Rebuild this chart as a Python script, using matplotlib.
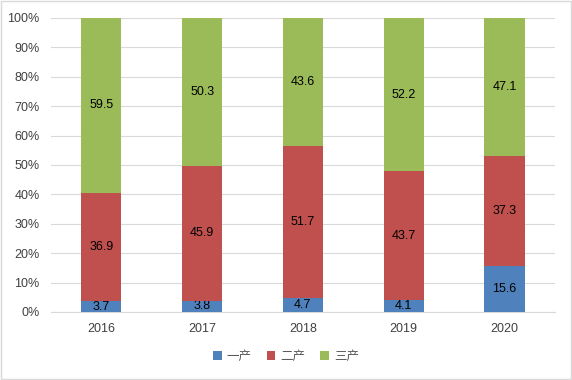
import matplotlib as mpl
import matplotlib.pyplot as plt
import numpy as np

mpl.rcParams['font.family'] = ['Liberation Sans', 'Noto Sans CJK SC', 'DejaVu Sans']

years = ['2016', '2017', '2018', '2019', '2020']
primary = [3.7, 3.8, 4.7, 4.1, 15.6]
secondary = [36.9, 45.9, 51.7, 43.7, 37.3]
tertiary = [59.5, 50.3, 43.6, 52.2, 47.1]
names = ['一产', '二产', '三产']
colors = ['#4F81BD', '#C0504D', '#9BBB59']

series = np.array([primary, secondary, tertiary])
total = series.sum(axis=0)
share = series / total * 100

fig = plt.figure(figsize=(5.72, 3.8), dpi=100)
ax = fig.add_axes([0.089, 0.179, 0.881, 0.774])
x = np.arange(len(years))
bottom = np.zeros(len(years))
for vals, pct, name, c in zip(series, share, names, colors):
    bars = ax.bar(x, pct, 0.4, bottom=bottom, color=c, label=name, zorder=3)
    ax.bar_label(bars, labels=[f'{v:.1f}' for v in vals], label_type='center',
                 fontsize=9, color='black')
    bottom += pct

ax.set_xlim(-0.5, len(years) - 0.5)
ax.set_ylim(0, 100)
ax.set_yticks(np.arange(0, 101, 10))
ax.set_yticklabels([f'{v}%' for v in range(0, 101, 10)])
ax.set_xticks(x)
ax.set_xticklabels(years)
ax.tick_params(length=0, labelsize=9, colors='#404040', pad=8)
ax.tick_params(axis='y', pad=8)
ax.grid(axis='y', color='#D9D9D9', linewidth=0.8, zorder=0)
for s in ['top', 'right', 'left']:
    ax.spines[s].set_visible(False)
ax.spines['bottom'].set_color('#D9D9D9')

leg = fig.legend(loc='lower center', bbox_to_anchor=(0.5, 0.015), ncol=3, frameon=False,
                 fontsize=9, handlelength=0.7, handleheight=0.7, columnspacing=1.2,
                 handletextpad=0.4)
for t in leg.get_texts():
    t.set_color('#595959')

fig.patches.append(mpl.patches.Rectangle((0.002, 0.002), 0.996, 0.996, transform=fig.transFigure,
                                         fill=False, edgecolor='#D9D9D9', linewidth=1))
fig.savefig('out.png', dpi=100)
